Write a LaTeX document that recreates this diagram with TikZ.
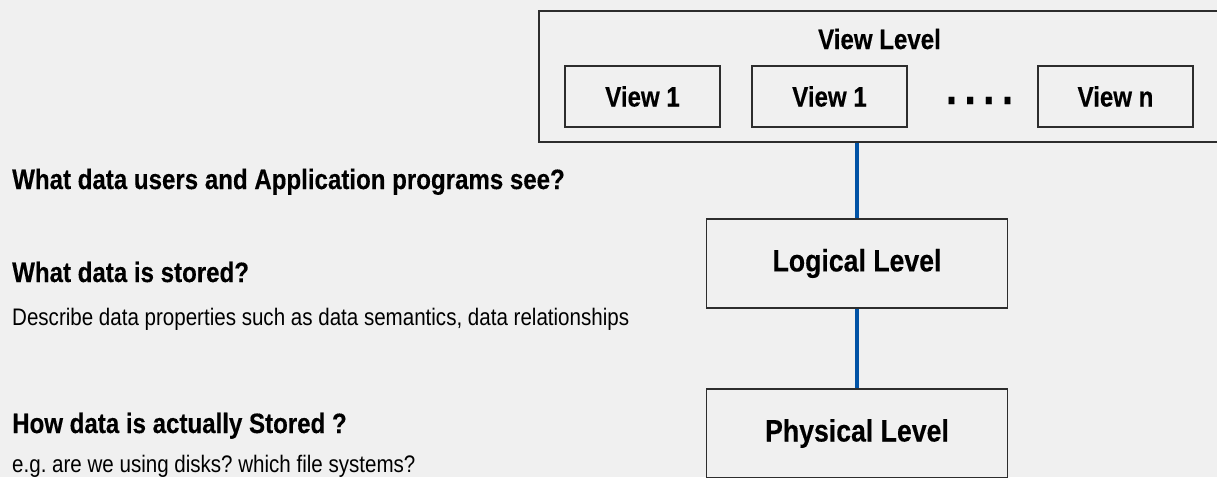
\documentclass[tikz,border=0pt]{standalone}
\usepackage{fontspec}
\setmainfont{Liberation Sans}[FakeStretch=0.86,BoldFeatures={FakeBold=0.3}]
\usepackage{tikz}
\usetikzlibrary{positioning}
\frenchspacing
\definecolor{bggray}{RGB}{240,240,240}
\definecolor{linkblue}{RGB}{0,82,165}
\definecolor{boxline}{RGB}{45,45,45}
\tikzstyle{question}=[anchor=base west,inner sep=0pt,font=\fontsize{28}{34}\selectfont\bfseries]
\tikzstyle{remark}=[anchor=base west,inner sep=0pt,font=\fontsize{23.9}{29}\selectfont]
\tikzstyle{viewbox}=[shape=rectangle,draw=boxline,line width=1.3pt,inner sep=0pt,minimum width=155,minimum height=61,font=\fontsize{28}{34}\selectfont\bfseries]
\tikzstyle{levelbox}=[shape=rectangle,draw=boxline,line width=1.3pt,inner sep=0pt,minimum width=301,minimum height=89,font=\fontsize{31}{37}\selectfont\bfseries]
\tikzstyle{link}=[-,draw=linkblue,line width=4.5pt]

\begin{document}
\begin{tikzpicture}[x=1pt,y=-1pt]
\useasboundingbox (0,0) rectangle (1217,477);
\fill[bggray] (0,0) rectangle (1217,477);
\clip (0,0) rectangle (1217,477);

% left column
\node[question] (q_view)  at (12,189) {What data users and Application programs see?};
\node[question] (q_logic) at (12,282) {What data is stored?};
\node[remark]   (r_logic) at (12,325) {Describe data properties such as data semantics, data relationships};
\node[question] (q_phys)  at (12,433) {How data is actually Stored ?};
\node[remark]   (r_phys)  at (12,472) {e.g. are we using disks? which file systems?};

% view level
\node[shape=rectangle,draw=boxline,line width=1.3pt,minimum width=683,minimum height=131] (viewlevel) at (880.5,76.5) {};
\node[question,anchor=base] (viewtitle) at (879.5,49) {View Level};
\node[viewbox] (view1) at (642.5,96.5) {View 1};
\node[viewbox] (view2) at (829.5,96.5) {View 1};
\node[anchor=base,inner sep=0pt,font=\fontsize{48}{48}\selectfont\bfseries] (vdots) at (979.5,104) {.\hspace{7.2pt}.\hspace{7.2pt}.\hspace{7.2pt}.};
\node[viewbox] (viewn) at (1115.5,96.5) {View n};

% logical and physical level
\node[levelbox] (logical)  at (857,263.5) {Logical Level};
\node[levelbox] (physical) at (857,433.5) {Physical Level};

\draw[link] (logical.north) -- (logical.north |- viewlevel.south);
\draw[link] (physical.north) -- (logical.south);

\end{tikzpicture}
\end{document}
